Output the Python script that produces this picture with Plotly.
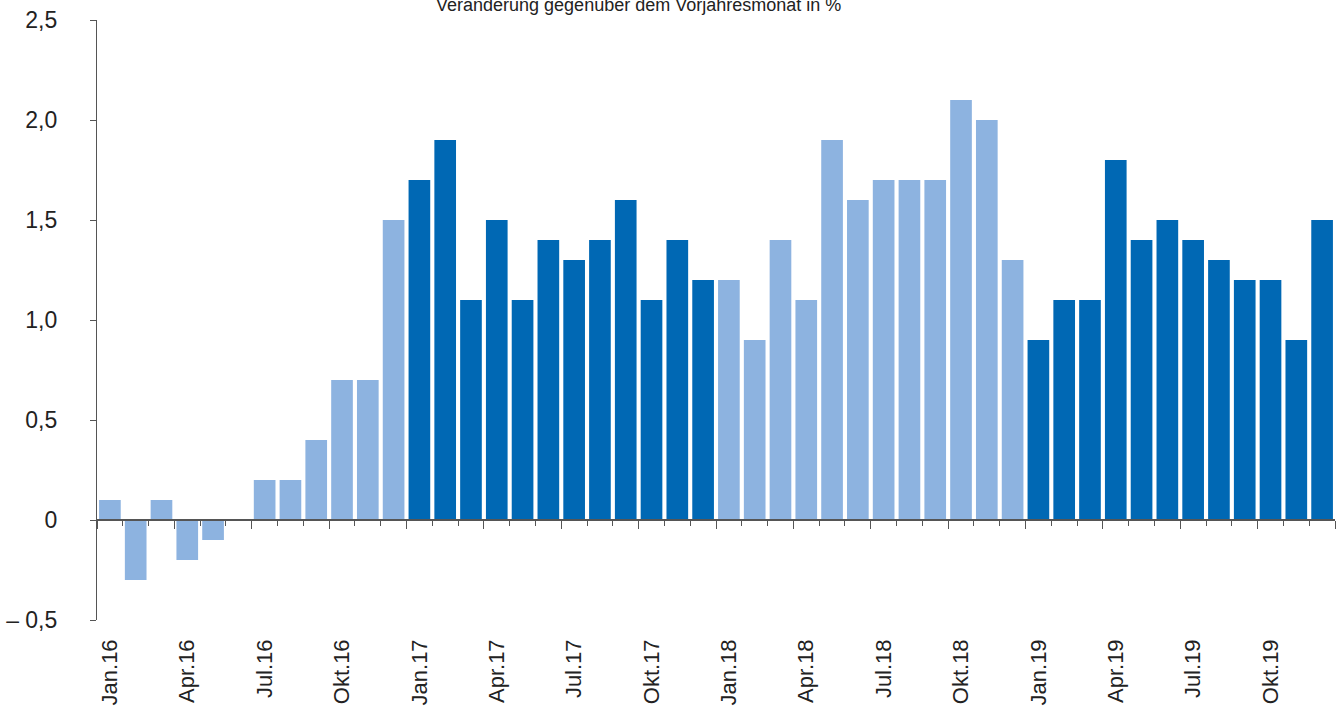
import plotly.graph_objects as go

months = ["Jan.", "Feb.", "Mär.", "Apr.", "Mai", "Jun.", "Jul.", "Aug.", "Sep.", "Okt.", "Nov.", "Dez."]
years = ["16", "17", "18", "19"]
categories = [f"{m}{y}" for y in years for m in months]

values_2016 = [0.1, -0.3, 0.1, -0.2, -0.1, 0.0, 0.2, 0.2, 0.4, 0.7, 0.7, 1.5]
values_2017 = [1.7, 1.9, 1.1, 1.5, 1.1, 1.4, 1.3, 1.4, 1.6, 1.1, 1.4, 1.2]
values_2018 = [1.2, 0.9, 1.4, 1.1, 1.9, 1.6, 1.7, 1.7, 1.7, 2.1, 2.0, 1.3]
values_2019 = [0.9, 1.1, 1.1, 1.8, 1.4, 1.5, 1.4, 1.3, 1.2, 1.2, 0.9, 1.5]

y_tickvals = [-0.5, 0, 0.5, 1.0, 1.5, 2.0, 2.5]
y_ticktext = ["– 0,5", "0", "0,5", "1,0", "1,5", "2,0", "2,5"]

title_text = "Veränderung gegenüber dem Vorjahresmonat in %"

LIGHT = "#8DB3E0"
DARK = "#0068B4"
AXIS = "#555555"
FONT = "Liberation Sans, Arial, sans-serif"

values = values_2016 + values_2017 + values_2018 + values_2019
year_colors = [LIGHT, DARK, LIGHT, DARK]
colors = [year_colors[i // 12] for i in range(len(values))]
xpos = list(range(len(values)))

fig = go.Figure()
fig.add_trace(go.Bar(x=xpos, y=values, marker=dict(color=colors, line=dict(width=0)),
                     hoverinfo="x+y", showlegend=False))
# invisible trace to carry the zero-line axis
fig.add_trace(go.Scatter(x=[xpos[0], xpos[-1]], y=[0, 0], xaxis="x2", mode="lines",
                         line=dict(width=0), hoverinfo="skip", showlegend=False))

n = len(values)
label_idx = list(range(0, n, 3))
major_bounds = [i - 0.5 for i in range(0, n + 1, 3)]
minor_bounds = [i - 0.5 for i in range(0, n + 1)]

fig.update_layout(
    template="none",
    width=1340, height=711,
    margin=dict(l=97, r=5, t=20, b=91, autoexpand=False),
    paper_bgcolor="white", plot_bgcolor="white",
    bargap=0.16,
    font=dict(family=FONT, size=22, color="#222222"),
    xaxis=dict(
        range=[-0.5, n - 0.5], automargin=False,
        tickmode="array", tickvals=label_idx,
        ticktext=[categories[i] for i in label_idx],
        tickangle=-90, ticks="", showline=False, showgrid=False, zeroline=False,
        ticklabelstandoff=14,
        tickfont=dict(size=22, family=FONT, color="#222222"),
    ),
    xaxis2=dict(
        range=[-0.5, n - 0.5], overlaying="x", anchor="free", position=0.5 / 3.0,
        automargin=False,
        tickmode="array", tickvals=major_bounds, ticks="outside", ticklen=8,
        tickcolor=AXIS, tickwidth=1.2,
        minor=dict(tickmode="array", tickvals=minor_bounds, ticks="outside", ticklen=5,
                   tickcolor=AXIS, tickwidth=1.2, showgrid=False),
        showticklabels=False, showline=True, linecolor=AXIS, linewidth=1.5,
        showgrid=False, zeroline=False,
    ),
    yaxis=dict(
        range=[-0.5, 2.5], automargin=False,
        tickmode="array", tickvals=y_tickvals, ticktext=y_ticktext,
        ticks="outside", ticklen=6, tickcolor=AXIS, tickwidth=1.2,
        showline=True, linecolor=AXIS, linewidth=1.2,
        showgrid=False, zeroline=False, ticklabelstandoff=28,
        tickfont=dict(size=23, family=FONT, color="#222222"),
    ),
    annotations=[dict(
        text=title_text, xref="paper", yref="paper", x=(638 - 97) / (1335 - 97), y=1,
        xanchor="center", yanchor="middle", yshift=15, showarrow=False,
        font=dict(size=18, family=FONT, color="#222222"),
    )],
)

fig.write_html("out.html", config={"displayModeBar": False},
               post_script="document.body.style.margin='0';document.body.style.overflow='hidden';")
